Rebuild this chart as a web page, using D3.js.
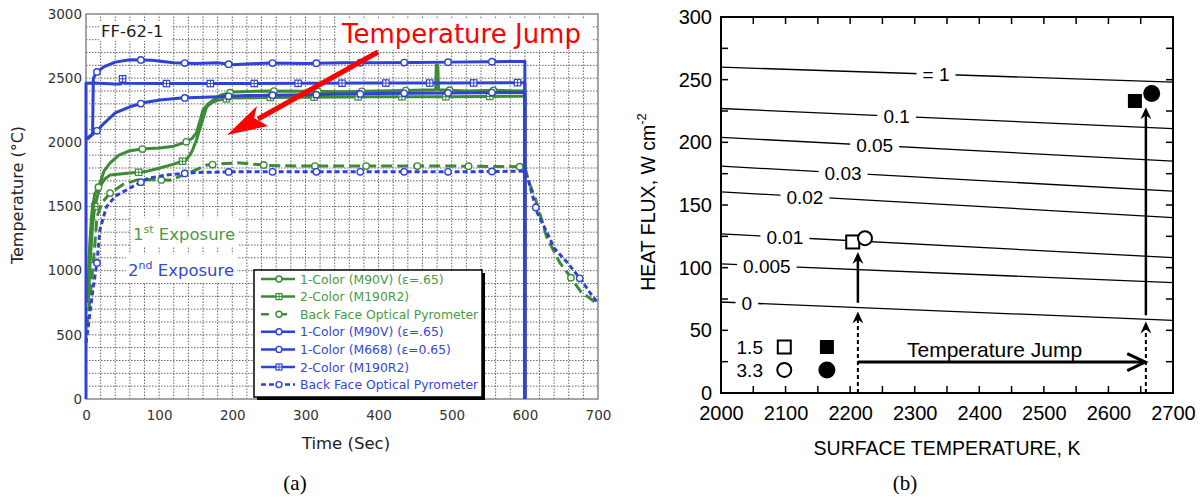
<!DOCTYPE html>
<html>
<head>
<meta charset="utf-8">
<script src="https://cdn.jsdelivr.net/npm/d3@7"></script>
<style>
  body { margin: 0; background: #fff; }
  svg { display: block; }
</style>
</head>
<body>
<svg id="fig" width="1202" height="497"></svg>
<script>
(function(){
    'use strict';

    // ---------- panel (a) data ----------
    var timeTicks = [0, 100, 200, 300, 400, 500, 600, 700];
    var tempTicks = [0, 500, 1000, 1500, 2000, 2500, 3000];

    // [time s, temperature C]
    var green1Color = [[2,750],[5,1200],[8,1450],[12,1600],[17,1650],[25,1780],[33,1840],[45,1900],[60,1935],[80,1950],[101,1956],[120,1970],[137,2004],[145,2030],[151,2073],[156,2170],[160,2252],[167,2300],[174,2330],[185,2370],[201,2393],[250,2400],[300,2398],[350,2395],[400,2400],[450,2405],[478,2410],[479,2600],[481,2600],[482,2410],[520,2400],[560,2405],[600,2400],[600,0]];
    var green2Color = [[3,750],[6,1100],[9,1350],[12,1500],[19,1653],[25,1710],[33,1746],[60,1761],[80,1770],[101,1800],[120,1830],[137,1862],[145,1930],[151,2018],[158,2150],[165,2277],[172,2310],[181,2330],[200,2345],[250,2350],[300,2352],[400,2355],[500,2355],[600,2360],[600,0]];
    var greenBackFace = [[1,560],[4,700],[8,930],[12,1200],[15,1420],[22,1530],[33,1605],[50,1670],[70,1707],[90,1710],[115,1705],[140,1760],[165,1823],[190,1835],[208,1840],[250,1820],[300,1815],[400,1815],[500,1815],[600,1810],[605,1700],[615,1550],[630,1260],[648,1060],[660,970],[676,840],[690,780],[700,733]];
    var blue1ColorM90V = [[0,2030],[9,2060],[10,2500],[15,2549],[25,2590],[40,2625],[60,2644],[90,2640],[120,2620],[150,2615],[180,2620],[200,2605],[250,2618],[300,2615],[350,2620],[400,2620],[450,2622],[500,2625],[550,2628],[600,2630],[600,0]];
    var blue1ColorM668 = [[0,2030],[3,2030],[8,2060],[15,2090],[25,2150],[40,2230],[60,2277],[80,2310],[101,2330],[130,2345],[181,2355],[220,2365],[300,2370],[400,2380],[500,2385],[600,2390],[600,0]];
    var blue2Color = [[0,0],[0,2460],[10,2462],[40,2455],[48,2455],[50,2495],[52,2460],[100,2458],[200,2458],[300,2460],[400,2462],[500,2462],[600,2465],[600,0]];
    var blueBackFace = [[0,437],[3,560],[6,700],[10,873],[15,1060],[19,1317],[24,1420],[28,1497],[40,1580],[63,1653],[85,1720],[110,1746],[150,1765],[200,1770],[300,1770],[400,1770],[500,1770],[600,1775],[605,1700],[617,1450],[630,1300],[640,1177],[660,1050],[680,904],[690,820],[700,748]];

    var seriesA = [green1Color, green2Color, greenBackFace, blue1ColorM90V, blue1ColorM668, blue2Color, blueBackFace];
    var legendLabels = ['1-Color (M90V) (\u03b5=.65)', '2-Color (M190R2)', 'Back Face Optical Pyrometer',
                        '1-Color (M90V) (\u03b5=.65)', '1-Color (M668) (\u03b5=0.65)', '2-Color (M190R2)', 'Back Face Optical Pyrometer'];

    // ---------- panel (b) data ----------
    var tempKTicks = [2000, 2100, 2200, 2300, 2400, 2500, 2600, 2700];
    var fluxTicks = [0, 50, 100, 150, 200, 250, 300];
    var contourLabels = ['= 1', '0.1', '0.05', '0.03', '0.02', '0.01', '0.005', '0'];
    var contourAt2000 = [260, 227, 204, 181, 160.5, 127, 103, 72.6];
    var contourAt2700 = [248, 211, 185, 161, 140, 108, 88, 58];
    var contourLabelT = [2333, 2272, 2238, 2189, 2130, 2099, 2071, 2040];
    var openSquare = [2204, 120.5];
    var openCircle = [2223, 123.5];
    var filledSquare = [2641, 233];
    var filledCircle = [2667, 239];
    var jumpArrow = [2212, 2657, 24.7];
    // [T, flux from, flux to, dashed]
    var riseArrows = [[2212, 0, 65, true], [2212, 72, 112.5, false], [2658, 0, 57, true], [2658, 62, 228, false]];
    var keyLabels = ['1.5', '3.3'];
    var keyFlux = [36.7, 18.4];

    var GREEN = '#3d8b37', BLUE = '#2f42d4';
    var svg = d3.select('#fig');

    // ================= panel (a) =================
    var xa = d3.scaleLinear().domain([0, 700]).range([86, 598]);
    var ya = d3.scaleLinear().domain([0, 3000]).range([399, 14]);
    var ga = svg.append('g');

    ga.append('g').selectAll('line').data(d3.range(20, 700, 20)).enter().append('line')
        .attr('x1', function(d){ return xa(d); }).attr('x2', function(d){ return xa(d); })
        .attr('y1', ya(0)).attr('y2', ya(3000))
        .attr('stroke', '#666').attr('stroke-width', 1).attr('stroke-dasharray', '1.5,1.5');
    ga.append('g').selectAll('line').data(d3.range(100, 3000, 100)).enter().append('line')
        .attr('y1', function(d){ return ya(d); }).attr('y2', function(d){ return ya(d); })
        .attr('x1', xa(0)).attr('x2', xa(700))
        .attr('stroke', '#666').attr('stroke-width', 1).attr('stroke-dasharray', '1.5,1.5');
    ga.append('rect').attr('x', xa(0)).attr('y', ya(3000))
        .attr('width', xa(700) - xa(0)).attr('height', ya(0) - ya(3000))
        .attr('fill', 'none').attr('stroke', '#888').attr('stroke-width', 1.5);

    var axB = ga.append('g').attr('transform', 'translate(0,' + ya(0) + ')')
        .call(d3.axisBottom(xa).tickValues(timeTicks).tickFormat(d3.format('d')).tickSize(0).tickPadding(11));
    var axL = ga.append('g').attr('transform', 'translate(' + xa(0) + ',0)')
        .call(d3.axisLeft(ya).tickValues(tempTicks).tickFormat(d3.format('d')).tickSize(0).tickPadding(4));
    [axB, axL].forEach(function(ax){
        ax.select('.domain').remove();
        ax.selectAll('text').attr('font-family', 'DejaVu Sans').attr('font-size', 13.5).attr('fill', '#333');
    });

    // annotation backgrounds
    ga.append('rect').attr('x', 99).attr('y', 21).attr('width', 72).attr('height', 20).attr('fill', '#fff');
    ga.append('text').attr('x', 101).attr('y', 37).text('FF-62-1')
        .attr('font-family', 'DejaVu Sans').attr('font-size', 16.5).attr('fill', '#222');
    ga.append('rect').attr('x', 131).attr('y', 218).attr('width', 108).attr('height', 28).attr('fill', '#fff');
    ga.append('rect').attr('x', 126).attr('y', 254).attr('width', 111).attr('height', 28).attr('fill', '#fff');

    var line = d3.line().x(function(d){ return xa(d[0]); }).y(function(d){ return ya(d[1]); });
    var styles = [
        {c: GREEN, dash: null, m: 'circle', step: 60, off: 17},
        {c: GREEN, dash: null, m: 'square', step: 60, off: 12},
        {c: GREEN, dash: '11,5', m: 'circle', step: 70, off: 33},
        {c: BLUE, dash: null, m: 'circle', step: 60, off: 15},
        {c: BLUE, dash: null, m: 'circle', step: 60, off: 15},
        {c: BLUE, dash: null, m: 'square', step: 60, off: 50},
        {c: BLUE, dash: '5,3', m: 'circle', step: 60, off: 15}
    ];

    function valueAt(data, t) {
        for (var i = 1; i < data.length; i++) {
            if (data[i][0] >= t && data[i][0] > data[i-1][0]) {
                var a = data[i-1], b = data[i];
                return a[1] + (b[1] - a[1]) * (t - a[0]) / (b[0] - a[0]);
            }
        }
        return null;
    }

    function drawMarker(g, kind, x, y, color, r) {
        if (kind === 'circle') {
            g.append('circle').attr('cx', x).attr('cy', y).attr('r', r)
                .attr('fill', '#fff').attr('stroke', color).attr('stroke-width', 1.4);
        } else {
            g.append('rect').attr('x', x - r).attr('y', y - r).attr('width', 2 * r).attr('height', 2 * r)
                .attr('fill', '#fff').attr('stroke', color).attr('stroke-width', 1.2);
            g.append('path').attr('d', 'M' + (x - r) + ',' + y + 'H' + (x + r) + 'M' + x + ',' + (y - r) + 'V' + (y + r))
                .attr('stroke', color).attr('stroke-width', 1);
        }
    }

    var order = [2, 6, 1, 0, 4, 5, 3];
    order.forEach(function(i){
        var s = styles[i], data = seriesA[i];
        var g = ga.append('g');
        g.append('path').attr('d', line(data)).attr('fill', 'none')
            .attr('stroke', s.c).attr('stroke-width', 3)
            .attr('stroke-dasharray', s.dash).attr('stroke-linejoin', 'round');
        var tEnd = s.dash ? 700 : 596;
        for (var t = s.off; t <= tEnd; t += s.step) {
            var v = valueAt(data, t);
            if (v !== null) drawMarker(g, s.m, xa(t), ya(v), s.c, 3.2);
        }
    });

    ga.append('text').attr('x', 133).attr('y', 240).attr('fill', '#4b9a43')
        .attr('font-family', 'DejaVu Sans').attr('font-size', 16.5)
        .call(function(t){
            t.append('tspan').text('1');
            t.append('tspan').text('st').attr('font-size', 11).attr('dy', -7);
            t.append('tspan').text(' Exposure').attr('dy', 7);
        });
    ga.append('text').attr('x', 128).attr('y', 276).attr('fill', '#3447d6')
        .attr('font-family', 'DejaVu Sans').attr('font-size', 16.5)
        .call(function(t){
            t.append('tspan').text('2');
            t.append('tspan').text('nd').attr('font-size', 11).attr('dy', -7);
            t.append('tspan').text(' Exposure').attr('dy', 7);
        });

    // red annotation
    ga.append('rect').attr('x', 336).attr('y', 18).attr('width', 256).attr('height', 32).attr('fill', '#fff');
    ga.append('text').attr('x', 342).attr('y', 43).text('Temperature Jump')
        .attr('font-family', 'DejaVu Sans').attr('font-size', 26).attr('fill', '#f00');
    ga.append('line').attr('x1', 378).attr('y1', 52).attr('x2', 258).attr('y2', 119)
        .attr('stroke', '#f00').attr('stroke-width', 5);
    ga.append('path').attr('d', 'M227,135 L257,106 L254,118 L268,126 Z').attr('fill', '#f00');

    // legend
    var lg = ga.append('g');
    lg.append('rect').attr('x', 257).attr('y', 273).attr('width', 228).attr('height', 127).attr('fill', '#000');
    lg.append('rect').attr('x', 254).attr('y', 270).attr('width', 228).attr('height', 127)
        .attr('fill', '#fff').attr('stroke', '#000').attr('stroke-width', 1.5);
    svg.append('clipPath').attr('id', 'legclip').append('rect')
        .attr('x', 254).attr('y', 270).attr('width', 227).attr('height', 127);
    legendLabels.forEach(function(lab, i){
        var s = styles[i], yy = 279 + i * 17.6;
        var e = lg.append('g');
        e.append('line').attr('x1', 261).attr('x2', 295).attr('y1', yy).attr('y2', yy)
            .attr('stroke', s.c).attr('stroke-width', 2.5)
            .attr('stroke-dasharray', s.dash ? (i === 2 ? '8,10' : '5,3') : null);
        drawMarker(e, s.m, 279, yy, s.c, 3);
        e.append('text').attr('x', 300).attr('y', yy + 4.5).text(lab)
            .attr('clip-path', 'url(#legclip)')
            .attr('font-family', 'DejaVu Sans').attr('font-size', 12.4)
            .attr('fill', i < 3 ? '#4b9a43' : '#3447d6');
    });

    ga.append('text').attr('transform', 'translate(23,195) rotate(-90)').attr('text-anchor', 'middle')
        .text('Temperature (\u00b0C)').attr('font-family', 'DejaVu Sans').attr('font-size', 16).attr('fill', '#222');
    ga.append('text').attr('x', 346).attr('y', 449).attr('text-anchor', 'middle')
        .text('Time (Sec)').attr('font-family', 'DejaVu Sans').attr('font-size', 16.5).attr('fill', '#222');
    ga.append('text').attr('x', 295).attr('y', 490).attr('text-anchor', 'middle')
        .text('(a)').attr('font-family', 'Liberation Serif').attr('font-size', 21);

    // ================= panel (b) =================
    var xb = d3.scaleLinear().domain([2000, 2700]).range([721, 1173]);
    var yb = d3.scaleLinear().domain([0, 300]).range([393, 17]);
    var gb = svg.append('g');
    var FONT = 'Liberation Sans';

    // contour lines, each with its label sitting in a gap
    contourLabels.forEach(function(lab, i){
        var a = contourAt2000[i], b = contourAt2700[i];
        var cg = gb.append('g');
        cg.append('line').attr('x1', xb(2000)).attr('y1', yb(a)).attr('x2', xb(2700)).attr('y2', yb(b))
            .attr('stroke', '#000').attr('stroke-width', 1.3);
        var tl = contourLabelT[i];
        var fl = a + (b - a) * (tl - 2000) / 700;
        var gap = cg.append('rect').attr('fill', '#fff');
        var txt = cg.append('text').attr('x', xb(tl)).attr('y', yb(fl) + 7)
            .attr('text-anchor', 'middle').text(lab)
            .attr('font-family', FONT).attr('font-size', 19);
        var w = txt.node().getComputedTextLength();
        gap.attr('x', xb(tl) - w / 2 - 6).attr('y', yb(fl) - 8)
            .attr('width', w + 12).attr('height', 16);
    });

    // frame and ticks
    gb.append('rect').attr('x', xb(2000)).attr('y', yb(300))
        .attr('width', xb(2700) - xb(2000)).attr('height', yb(0) - yb(300))
        .attr('fill', 'none').attr('stroke', '#000').attr('stroke-width', 2);
    var tk = gb.append('g').attr('stroke', '#000').attr('stroke-width', 1.5);
    d3.range(2050, 2700, 50).forEach(function(t){
        tk.append('line').attr('x1', xb(t)).attr('x2', xb(t)).attr('y1', yb(0)).attr('y2', yb(0) - 7);
        tk.append('line').attr('x1', xb(t)).attr('x2', xb(t)).attr('y1', yb(300)).attr('y2', yb(300) + 7);
    });
    d3.range(25, 300, 25).forEach(function(f){
        tk.append('line').attr('y1', yb(f)).attr('y2', yb(f)).attr('x1', xb(2000)).attr('x2', xb(2000) + 7);
        tk.append('line').attr('y1', yb(f)).attr('y2', yb(f)).attr('x1', xb(2700)).attr('x2', xb(2700) - 7);
    });

    var bx = gb.append('g').attr('transform', 'translate(0,' + yb(0) + ')')
        .call(d3.axisBottom(xb).tickValues(tempKTicks).tickFormat(d3.format('d')).tickSize(0).tickPadding(13));
    var by = gb.append('g').attr('transform', 'translate(' + xb(2000) + ',0)')
        .call(d3.axisLeft(yb).tickValues(fluxTicks).tickFormat(d3.format('d')).tickSize(0).tickPadding(9));
    [bx, by].forEach(function(ax){
        ax.select('.domain').remove();
        ax.selectAll('text').attr('font-family', FONT).attr('font-size', 20).attr('fill', '#000');
    });

    // data points
    var sq = 6.5, rc = 7;
    gb.append('rect').attr('x', xb(openSquare[0]) - sq).attr('y', yb(openSquare[1]) - sq)
        .attr('width', 2 * sq).attr('height', 2 * sq).attr('fill', '#fff').attr('stroke', '#000').attr('stroke-width', 2);
    gb.append('circle').attr('cx', xb(openCircle[0])).attr('cy', yb(openCircle[1])).attr('r', rc)
        .attr('fill', '#fff').attr('stroke', '#000').attr('stroke-width', 2);
    gb.append('rect').attr('x', xb(filledSquare[0]) - 7).attr('y', yb(filledSquare[1]) - 7)
        .attr('width', 14).attr('height', 14).attr('fill', '#000');
    gb.append('circle').attr('cx', xb(filledCircle[0])).attr('cy', yb(filledCircle[1])).attr('r', 8.5).attr('fill', '#000');

    // arrows
    riseArrows.forEach(function(a){
        var x = xb(a[0]), yA = yb(a[1]), yT = yb(a[2]);
        gb.append('line').attr('x1', x).attr('x2', x).attr('y1', yA).attr('y2', yT + 6)
            .attr('stroke', '#000').attr('stroke-width', a[3] ? 2 : 2.5)
            .attr('stroke-dasharray', a[3] ? '4,3' : null);
        gb.append('path').attr('d', 'M' + x + ',' + yT + 'L' + (x - 5.5) + ',' + (yT + 12) +
            'L' + x + ',' + (yT + 8) + 'L' + (x + 5.5) + ',' + (yT + 12) + 'Z').attr('fill', '#000');
    });
    var jy = yb(jumpArrow[2]);
    gb.append('line').attr('x1', xb(jumpArrow[0])).attr('x2', xb(jumpArrow[1]) - 2).attr('y1', jy).attr('y2', jy)
        .attr('stroke', '#000').attr('stroke-width', 3);
    gb.append('path').attr('d', 'M' + (xb(jumpArrow[1]) - 18) + ',' + (jy - 8.5) + 'L' + xb(jumpArrow[1]) + ',' + jy +
        'L' + (xb(jumpArrow[1]) - 18) + ',' + (jy + 8.5)).attr('fill', 'none').attr('stroke', '#000').attr('stroke-width', 3);
    gb.append('text').attr('x', 907).attr('y', 357).text('Temperature Jump')
        .attr('font-family', FONT).attr('font-size', 21);

    // key
    keyLabels.forEach(function(lab, i){
        var yy = yb(keyFlux[i]);
        gb.append('text').attr('x', xb(2065)).attr('y', yy + 7).attr('text-anchor', 'end').text(lab)
            .attr('font-family', FONT).attr('font-size', 19);
        if (i === 0) {
            gb.append('rect').attr('x', xb(2098) - 6.5).attr('y', yy - 6.5).attr('width', 13).attr('height', 13)
                .attr('fill', '#fff').attr('stroke', '#000').attr('stroke-width', 2);
            gb.append('rect').attr('x', xb(2164) - 7).attr('y', yy - 7).attr('width', 14).attr('height', 14).attr('fill', '#000');
        } else {
            gb.append('circle').attr('cx', xb(2098)).attr('cy', yy).attr('r', 7)
                .attr('fill', '#fff').attr('stroke', '#000').attr('stroke-width', 2);
            gb.append('circle').attr('cx', xb(2164)).attr('cy', yy).attr('r', 8.5).attr('fill', '#000');
        }
    });

    gb.append('text').attr('transform', 'translate(655,202) rotate(-90)').attr('text-anchor', 'middle')
        .attr('font-family', FONT).attr('font-size', 19.5)
        .call(function(t){
            t.append('tspan').text('HEAT FLUX, W cm');
            t.append('tspan').text('-2').attr('font-size', 13).attr('dy', -9);
        });
    gb.append('text').attr('x', 947).attr('y', 455).attr('text-anchor', 'middle')
        .text('SURFACE TEMPERATURE, K').attr('font-family', FONT).attr('font-size', 19.5);
    gb.append('text').attr('x', 905).attr('y', 490).attr('text-anchor', 'middle')
        .text('(b)').attr('font-family', 'Liberation Serif').attr('font-size', 21);
})();
</script>
</body>
</html>
